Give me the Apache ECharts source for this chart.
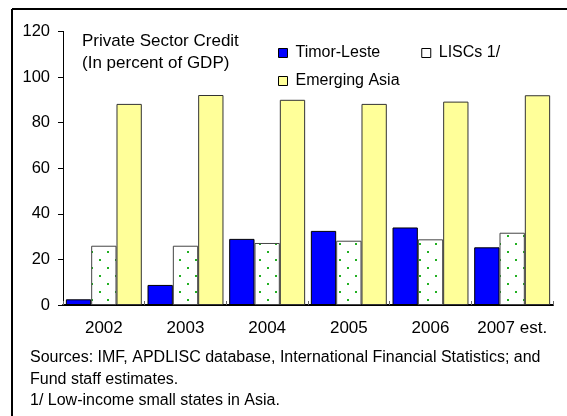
<!DOCTYPE html>
<html>
<head>
<meta charset="utf-8">
<script src="https://cdn.jsdelivr.net/npm/echarts@6/dist/echarts.min.js"></script>
<style>
html,body{margin:0;padding:0;background:#fff;}
#chart{width:567px;height:416px;}
</style>
</head>
<body>
<div id="chart"></div>
<script>
const categories = ['2002', '2003', '2004', '2005', '2006', '2007 est.'];
const timorLeste = [2.5, 8.8, 29, 32.5, 34, 25.3];
const liscs = [26, 26, 27.2, 28.2, 28.8, 31.7];
const emergingAsia = [88.2, 92.1, 90, 88.2, 89.2, 92];
const yTicks = { min: 0, max: 120, interval: 20 };
const titleLines = ['Private Sector Credit', '(In percent of GDP)'];
const noteLines = [
  'Sources: IMF, APDLISC database, International Financial Statistics; and',
  'Fund staff estimates.',
  '1/ Low-income small states in Asia.'
];

const FONT = 'Liberation Sans, Arial, sans-serif';

// dotted pattern for LISCs bars
const pc = document.createElement('canvas');
pc.width = 16; pc.height = 16;
const pctx = pc.getContext('2d');
pctx.fillStyle = '#ffffff';
pctx.fillRect(0, 0, 16, 16);
pctx.fillStyle = '#22b022';
pctx.fillRect(3, 3, 2, 2);
pctx.fillRect(11, 11, 2, 2);

const chart = echarts.init(document.getElementById('chart'), null, { renderer: 'canvas' });

const graphics = [
  { type: 'line', shape: { x1: 12, y1: 9, x2: 567, y2: 9 }, style: { stroke: '#000', lineWidth: 2 } },
  { type: 'line', shape: { x1: 12, y1: 9, x2: 12, y2: 416 }, style: { stroke: '#000', lineWidth: 2 } }
];
titleLines.forEach((t, i) => {
  graphics.push({ type: 'text', left: 82, top: 33 + i * 22,
    style: { text: t, font: '17px ' + FONT, fill: '#000' } });
});
noteLines.forEach((t, i) => {
  graphics.push({ type: 'text', left: 30, top: 350 + i * 21.5,
    style: { text: t, font: '16px ' + FONT, fill: '#000' } });
});

chart.setOption({
  animation: false,
  backgroundColor: '#fff',
  grid: { left: 63, right: 14, top: 31.4, bottom: 111, containLabel: false },
  legend: [
    {
      data: [
        { name: 'Timor-Leste', itemStyle: { color: '#0000ff', borderColor: '#000', borderWidth: 1 } },
        { name: 'LISCs 1/', itemStyle: { color: '#ffffff', borderColor: '#000', borderWidth: 1 } }
      ],
      left: 273, top: 40, itemWidth: 9, itemHeight: 9, itemGap: 41,
      icon: 'rect',
      textStyle: { fontFamily: FONT, fontSize: 16, color: '#000', padding: [0, 0, 0, 3] }
    },
    {
      data: [
        { name: 'Emerging Asia', itemStyle: { color: '#ffff99', borderColor: '#000', borderWidth: 1 } }
      ],
      left: 273, top: 68, itemWidth: 9, itemHeight: 9,
      icon: 'rect',
      textStyle: { fontFamily: FONT, fontSize: 16, color: '#000', padding: [0, 0, 0, 3] }
    }
  ],
  xAxis: {
    type: 'category',
    data: categories,
    axisLine: { lineStyle: { color: '#000', width: 2 } },
    axisTick: { show: true, inside: true, length: 4, alignWithLabel: false, lineStyle: { color: '#666' } },
    axisLabel: { interval: 0, fontFamily: FONT, fontSize: 17, color: '#000', margin: 15 }
  },
  yAxis: {
    type: 'value',
    min: yTicks.min, max: yTicks.max, interval: yTicks.interval,
    axisLine: { show: true, lineStyle: { color: '#000', width: 1 } },
    axisTick: { show: true, length: 5, lineStyle: { color: '#000' } },
    splitLine: { show: false },
    axisLabel: { fontFamily: FONT, fontSize: 16.5, color: '#000', margin: 13 }
  },
  series: [
    {
      name: 'Timor-Leste', type: 'bar', data: timorLeste,
      barGap: '0%', barCategoryGap: '7%',
      itemStyle: { color: '#0000ff', borderColor: '#000', borderWidth: 1 }
    },
    {
      name: 'LISCs 1/', type: 'bar', data: liscs,
      itemStyle: { color: { image: pc, repeat: 'repeat' }, borderColor: '#444', borderWidth: 1 }
    },
    {
      name: 'Emerging Asia', type: 'bar', data: emergingAsia,
      itemStyle: { color: '#ffff99', borderColor: '#333', borderWidth: 1 }
    }
  ],
  graphic: graphics
});
</script>
</body>
</html>
